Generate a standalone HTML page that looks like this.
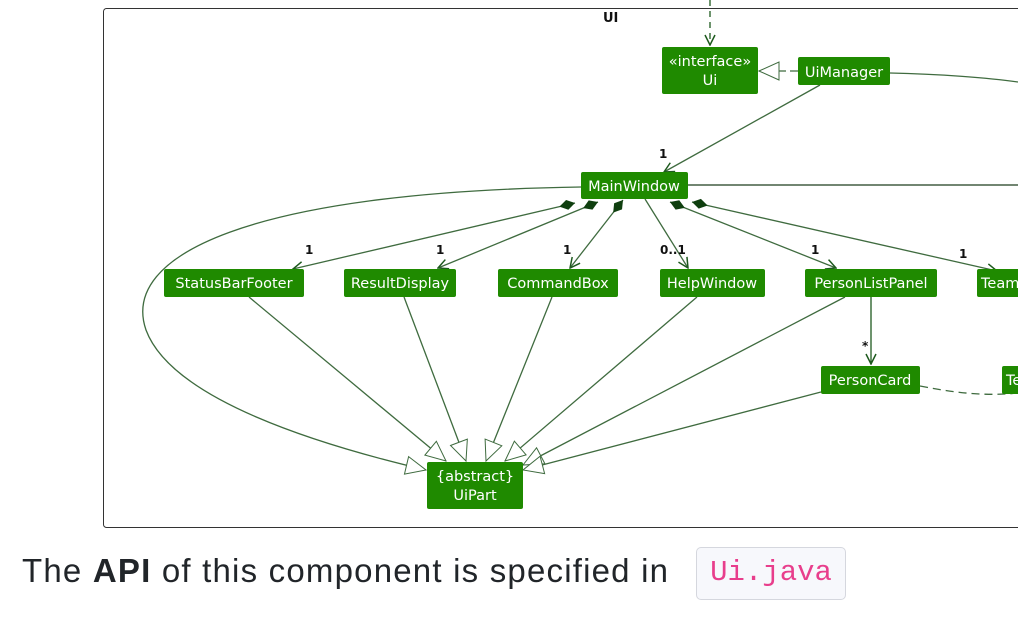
<!DOCTYPE html>
<html><head><meta charset="utf-8"><style>
body{margin:0;width:1018px;height:628px;background:#fff;overflow:hidden;font-family:"DejaVu Sans",sans-serif}
svg{position:absolute;left:0;top:0}
.p{position:absolute;left:22px;top:552px;font-family:"Liberation Sans",sans-serif;font-size:33px;color:#212529;letter-spacing:1.2px;white-space:nowrap}
.c{position:absolute;left:696px;top:547px;width:150px;height:53px;box-sizing:border-box;border:1.5px solid #d5d7de;background:#f7f8fc;border-radius:5px;color:#e83e8c;font-family:"Liberation Mono",monospace;font-size:29px;line-height:50px;text-align:center}
</style></head><body>
<svg width="1018" height="628" viewBox="0 0 1018 628">
<defs>
<marker id="o" viewBox="0 0 12 12" refX="11" refY="6" markerWidth="12" markerHeight="12" markerUnits="userSpaceOnUse" orient="auto"><path d="M1,1 L11,6 L1,11" fill="none" stroke="#1e5a1e" stroke-width="1.5"/></marker>
<marker id="t" viewBox="0 0 22 22" refX="21" refY="11" markerWidth="22" markerHeight="22" markerUnits="userSpaceOnUse" orient="auto"><path d="M1,2 L21,11 L1,20 Z" fill="#fff" stroke="#3f6b3f" stroke-width="1"/></marker>
<marker id="d" viewBox="0 0 20 12" refX="1" refY="6" markerWidth="20" markerHeight="12" markerUnits="userSpaceOnUse" orient="auto"><path d="M1,6 L9,1 L17,6 L9,11 Z" fill="#0f3f0f"/></marker>
</defs>
<rect x="103.5" y="8.5" width="930" height="519" rx="3" fill="none" stroke="#333" stroke-width="1"/>
<text x="603" y="22" font-size="13" font-weight="bold" fill="#111">UI</text>
<g stroke="#3f6b3f" stroke-width="1.3" fill="none">
<path d="M710,0 L710,45" stroke-dasharray="6,5" stroke="#1e5a1e" marker-end="url(#o)"/>
<path d="M798,71 L759,71" stroke-dasharray="8,4" marker-end="url(#t)"/>
<path d="M820,85 L664,172" marker-end="url(#o)"/>
<path d="M688,185 L1018,185" stroke="#1e3e1e"/>
<path d="M890,73 C940,74 990,78 1018,82"/>
<path d="M575,203 L293,269" marker-start="url(#d)" marker-end="url(#o)"/>
<path d="M598,202 L438,268" marker-start="url(#d)" marker-end="url(#o)"/>
<path d="M623,200 L570,268" marker-start="url(#d)" marker-end="url(#o)"/>
<path d="M645,199 L688,268" marker-end="url(#o)"/>
<path d="M670,202 L836,268" marker-start="url(#d)" marker-end="url(#o)"/>
<path d="M692,202 L997,271" marker-start="url(#d)" marker-end="url(#o)"/>
<path d="M871,297 L871,364" stroke="#1e5a1e" marker-end="url(#o)"/>
<path d="M920,386 C960,394 990,396 1018,393" stroke-dasharray="8,5"/>
<path d="M581,187 C250,192 120,255 146,330 C172,400 320,445 426,470" marker-end="url(#t)"/>
<path d="M249,297 L446,461" marker-end="url(#t)"/>
<path d="M404,297 L466,461" marker-end="url(#t)"/>
<path d="M552,297 L486,461" marker-end="url(#t)"/>
<path d="M697,297 L505,461" marker-end="url(#t)"/>
<path d="M845,297 L523,465" marker-end="url(#t)"/>
<path d="M821,392 L523,470" marker-end="url(#t)"/>
</g>
<g fill="#1f8a00">
<rect x="662" y="47" width="96" height="47" rx="2"/>
<rect x="798" y="57" width="92" height="28" rx="2"/>
<rect x="581" y="172" width="107" height="27" rx="2"/>
<rect x="164" y="269" width="140" height="28" rx="2"/>
<rect x="344" y="269" width="112" height="28" rx="2"/>
<rect x="498" y="269" width="120" height="28" rx="2"/>
<rect x="660" y="269" width="105" height="28" rx="2"/>
<rect x="805" y="269" width="132" height="28" rx="2"/>
<rect x="977" y="269" width="60" height="28" rx="2"/>
<rect x="821" y="366" width="99" height="28" rx="2"/>
<rect x="1002" y="366" width="30" height="28" rx="2"/>
<rect x="427" y="462" width="96" height="47" rx="2"/>
</g>
<g fill="#fff" font-size="14.5" text-anchor="middle">
<text x="710" y="66">«interface»</text>
<text x="710" y="85">Ui</text>
<text x="844" y="77">UiManager</text>
<text x="634" y="191">MainWindow</text>
<text x="234" y="288">StatusBarFooter</text>
<text x="400" y="288">ResultDisplay</text>
<text x="558" y="288">CommandBox</text>
<text x="712" y="288">HelpWindow</text>
<text x="871" y="288">PersonListPanel</text>
<text x="981" y="288" text-anchor="start">Team</text>
<text x="870" y="385">PersonCard</text>
<text x="1006" y="385" text-anchor="start">Te</text>
<text x="475" y="481">{abstract}</text>
<text x="475" y="500">UiPart</text>
</g>
<g fill="#111" font-size="12" font-weight="bold">
<text x="659" y="158">1</text>
<text x="305" y="254">1</text>
<text x="436" y="254">1</text>
<text x="563" y="254">1</text>
<text x="660" y="254">0..1</text>
<text x="811" y="254">1</text>
<text x="959" y="258">1</text>
<text x="862" y="350">*</text>
</g>
</svg>
<div class="p">The <b>API</b> of this component is specified in</div>
<div class="c">Ui.java</div>
</body></html>
